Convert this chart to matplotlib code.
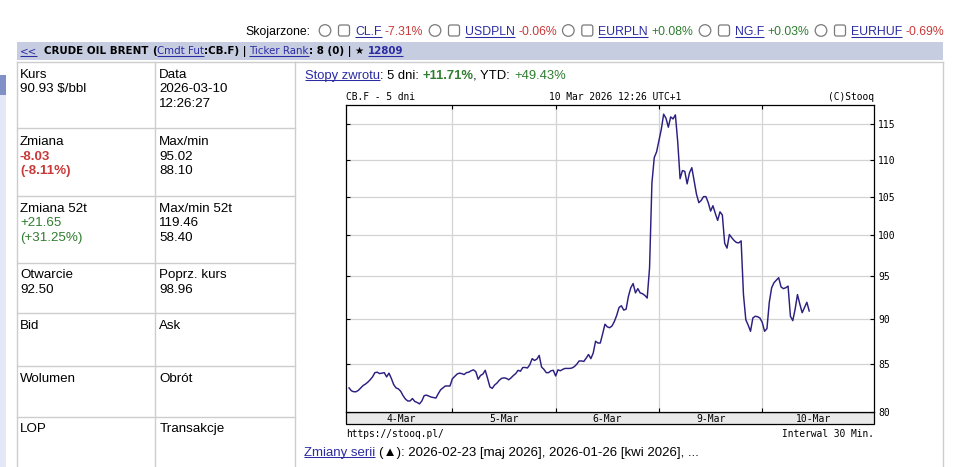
import matplotlib
matplotlib.use('Agg')
import matplotlib.pyplot as plt
import numpy as np
from matplotlib.patches import Rectangle, Circle, FancyBboxPatch
from matplotlib.ticker import FixedLocator, NullLocator, FuncFormatter
import matplotlib.transforms as mtransforms

# ---------------- data (30-min closes, CB.F, 5 days) ----------------
mar4 = [82.5, 82.2, 82.1, 82.1, 82.25, 82.5, 82.75, 82.9, 83.1, 83.35,
        83.65, 84.1, 84.15, 84.0, 84.05, 84.1, 83.65, 84.05, 83.5, 82.85,
        82.5, 82.4, 82.15, 81.7, 81.35, 81.15, 81.15, 81.4, 81.1, 81.0,
        80.85, 81.15, 81.7, 81.75, 81.65, 81.55, 81.5, 81.45, 81.9, 82.3,
        82.5, 82.7, 82.7, 82.7]
mar5 = [83.45, 83.7, 83.95, 84.05, 84.0, 83.9, 84.1, 84.15, 84.3, 84.4,
        84.2, 83.4, 83.8, 83.95, 84.35, 83.5, 82.6, 82.45, 82.8, 83.0,
        83.3, 83.5, 83.55, 83.5, 83.35, 83.55, 83.8, 84.0, 84.35, 84.25,
        84.65, 84.65, 84.6, 84.95, 85.6, 85.4, 85.55, 85.95, 84.7, 84.45,
        84.1, 84.1, 84.3, 84.35]
mar6 = [83.75, 84.4, 84.3, 84.45, 84.55, 84.55, 84.55, 84.6, 84.75, 85.0,
        85.35, 85.35, 85.3, 85.65, 86.05, 85.6, 86.2, 87.5, 87.3, 87.3,
        88.3, 89.4, 89.1, 89.0, 89.2, 89.7, 90.4, 91.3, 91.5, 91.0,
        91.1, 92.6, 93.6, 94.1, 93.0, 93.5, 93.0, 92.9, 92.7, 92.4,
        96.0, 106.8, 110.3, 111.1]
mar9 = [112.7, 114.3, 116.5, 115.9, 114.6, 116.1, 115.8, 116.4, 112.5, 107.4,
        108.5, 108.4, 106.7, 108.2, 108.9, 107.1, 105.3, 104.2, 104.5, 105.0,
        105.0, 104.2, 103.1, 103.8, 102.8, 101.9, 103.0, 102.6, 99.0, 98.4,
        100.1, 99.7, 99.35, 99.1, 99.05, 99.3, 92.8, 89.9, 89.3, 88.6,
        90.1, 90.3, 90.25, 90.1]
mar10 = [89.6, 88.6, 88.9, 91.9, 93.6, 94.2, 94.5, 94.8, 93.7, 93.5,
         93.6, 93.8, 90.3, 89.8, 91.1, 92.8, 91.7, 90.7, 91.3, 91.9, 90.9]
day_labels = ['4-Mar', '5-Mar', '6-Mar', '9-Mar', '10-Mar']
bars_per_day = 44
y_ticks = [80, 85, 90, 95, 100, 105, 110, 115]

prices = np.array(mar4 + mar5 + mar6 + mar9 + mar10)
xidx = np.arange(len(prices))
day_starts = [bars_per_day * d for d in range(1, len(day_labels))]
day_centers = [bars_per_day * d + bars_per_day / 2 for d in range(len(day_labels))]

# ---------------- figure ----------------
W, H = 964, 467
fig = plt.figure(figsize=(W / 100, H / 100), dpi=100)
ov = fig.add_axes([0, 0, 1, 1])
ov.set_xlim(0, W)
ov.set_ylim(H, 0)
ov.axis('off')
renderer = fig.canvas.get_renderer()

SANS = ['Liberation Sans', 'DejaVu Sans']
VERD = ['DejaVu Sans']
MONO = ['DejaVu Sans Mono']
LINK = '#2b2ba3'
RED = '#c83a3a'
GREEN = '#2f7d2f'
BORDER = '#cdcdcd'


def text(x, yc, s, size, color='black', weight='normal', family=SANS,
         ha='left', underline=False):
    t = ov.text(x, yc + 0.36 * size, s, fontsize=size * 0.72, color=color,
                fontweight=weight, family=family, ha=ha, va='baseline')
    w = t.get_window_extent(renderer).width
    if underline:
        x0 = x if ha == 'left' else x - w
        ov.plot([x0, x0 + w], [yc + 0.36 * size + 1.6] * 2, color=color,
                lw=0.75, solid_capstyle='butt')
    return w


def seq(x, yc, size, pieces, family=SANS, spw=0.278):
    for s, kw in pieces:
        lead = len(s) - len(s.lstrip(' '))
        trail = len(s) - len(s.rstrip(' '))
        x += lead * spw * size
        core = s.strip(' ')
        if core:
            x += text(x, yc, core, size, family=family, **kw)
        x += trail * spw * size
    return x


# left page strip
ov.add_patch(Rectangle((0, 75), 6, 20, facecolor='#8190c6', edgecolor='none'))
ov.add_patch(Rectangle((0, 95), 6, H - 95, facecolor='#e4e7f7', edgecolor='none'))

# ---------------- top "Skojarzone" line ----------------
ytop = 30.5
fs_top = 12.3
text(245.7, ytop, 'Skojarzone:', fs_top)
related = [('CL.F', '-7.31%', RED, 355), ('USDPLN', '-0.06%', RED, 465),
           ('EURPLN', '+0.08%', GREEN, 598.3), ('NG.F', '+0.03%', GREEN, 735),
           ('EURHUF', '-0.69%', RED, 851)]
for name, chg, col, xs in related:
    ov.add_patch(Circle((xs - 30, ytop), 5.8, facecolor='white',
                        edgecolor='#7a7a7a', lw=0.9))
    ov.add_patch(FancyBboxPatch((xs - 16.5, ytop - 5.5), 11, 11,
                                boxstyle='round,pad=0,rounding_size=2',
                                facecolor='white', edgecolor='#7a7a7a', lw=0.9))
    seq(xs, ytop, fs_top, [(name + ' ', dict(color=LINK, underline=True)),
                           (chg, dict(color=col))])

# ---------------- header bar ----------------
ov.add_patch(Rectangle((16.5, 41.5), 926.5, 18.5, facecolor='#c6cde0',
                       edgecolor='none'))
yh = 50.8
fs_h = 10.2
text(20, yh, '<<', fs_h, color=LINK, family=VERD, underline=True)
seq(44, yh, fs_h, [
    ('CRUDE OIL BRENT ', dict(weight='bold')),
    ('(', dict(weight='bold')),
    ('Cmdt Fut', dict(color=LINK, underline=True)),
    (':CB.F) | ', dict(weight='bold')),
    ('Ticker Rank', dict(color=LINK, underline=True)),
    (': 8 (0) | ★ ', dict(weight='bold')),
    ('12809', dict(color=LINK, weight='bold', underline=True)),
], family=VERD, spw=0.34)

# ---------------- left table ----------------
tx0, tx1, tx2 = 16.7, 155.3, 294.7
ty = [61.7, 128.3, 195.7, 262.7, 313.3, 365.7, 416.7]
for yy in ty:
    ov.plot([tx0, tx2], [yy, yy], color=BORDER, lw=1.0)
ov.plot([tx2, 942.7], [ty[0], ty[0]], color=BORDER, lw=1.0)
for xx in (tx0, tx1, tx2):
    ov.plot([xx, xx], [ty[0], H], color=BORDER, lw=1.0)
ov.plot([942.7, 942.7], [ty[0], H], color=BORDER, lw=1.0)

fs_t = 13.4
lh = 14.8
cells = [
    (72.7, [('Kurs', 'black', 'normal'), ('90.93 $/bbl', 'black', 'normal')],
           [('Data', 'black', 'normal'), ('2026-03-10', 'black', 'normal'),
            ('12:26:27', 'black', 'normal')]),
    (140.0, [('Zmiana', 'black', 'normal'), ('-8.03', RED, 'bold'),
             ('(-8.11%)', RED, 'bold')],
            [('Max/min', 'black', 'normal'), ('95.02', 'black', 'normal'),
             ('88.10', 'black', 'normal')]),
    (206.7, [('Zmiana 52t', 'black', 'normal'), ('+21.65', GREEN, 'normal'),
             ('(+31.25%)', GREEN, 'normal')],
            [('Max/min 52t', 'black', 'normal'), ('119.46', 'black', 'normal'),
             ('58.40', 'black', 'normal')]),
    (273.3, [('Otwarcie', 'black', 'normal'), ('92.50', 'black', 'normal')],
            [('Poprz. kurs', 'black', 'normal'), ('98.96', 'black', 'normal')]),
    (324.0, [('Bid', 'black', 'normal')], [('Ask', 'black', 'normal')]),
    (376.7, [('Wolumen', 'black', 'normal')], [('Obrót', 'black', 'normal')]),
    (427.3, [('LOP', 'black', 'normal')], [('Transakcje', 'black', 'normal')]),
]
for y0, left, right in cells:
    for k, (s, c, wgt) in enumerate(left):
        text(20, y0 + k * lh, s, fs_t, color=c, weight=wgt)
    for k, (s, c, wgt) in enumerate(right):
        text(159.3, y0 + k * lh, s, fs_t, color=c, weight=wgt)

# ---------------- returns line ----------------
seq(305, 74, 13.0, [
    ('Stopy zwrotu', dict(color=LINK, underline=True)),
    (': 5 dni: ', {}),
    ('+11.71%', dict(color=GREEN, weight='bold')),
    (', YTD: ', {}),
    ('+49.43%', dict(color=GREEN)),
])

# ---------------- chart ----------------
L, R, T, B = 346, 874, 104.7, 412.3
ax = fig.add_axes([L / W, 1 - B / H, (R - L) / W, (B - T) / H])
ax.set_yscale('log')
ax.set_xlim(-1.3, 223.6)
ax.set_ylim(80, 117.9)
for v in y_ticks[1:]:
    ax.axhline(v, color='#d3d3d3', lw=0.9, zorder=0)
for b in day_starts:
    ax.axvline(b, color='#d3d3d3', lw=0.9, zorder=0)
ax.plot(xidx, prices, color='#2b1f80', lw=1.05, zorder=3)

ax.yaxis.set_major_locator(FixedLocator(y_ticks))
ax.yaxis.set_minor_locator(NullLocator())
ax.yaxis.set_major_formatter(FuncFormatter(lambda v, p: '%d' % round(v)))
ax.yaxis.set_minor_formatter(FuncFormatter(lambda v, p: ''))
ax.tick_params(axis='y', which='major', left=True, right=True,
               labelleft=False, labelright=True, direction='in', length=3,
               width=0.8, pad=3, labelsize=7)
ax.set_xticks(day_starts)
ax.tick_params(axis='x', which='major', top=True, bottom=True,
               labelbottom=False, direction='in', length=3, width=0.8)
for lab in ax.get_yticklabels():
    lab.set_family(MONO)
for sp in ax.spines.values():
    sp.set_color('black')
    sp.set_linewidth(0.9)

# x label bar under chart
ov.add_patch(Rectangle((L, B), R - L, 12, facecolor='#e9e9e9',
                       edgecolor='black', lw=0.9))
blend = mtransforms.blended_transform_factory(ax.transData, ov.transData)
for c, lab in zip(day_centers, day_labels):
    ov.text(c, B + 6.3, lab, transform=blend, ha='center', va='center',
            fontsize=7, family=MONO, color='black')

fs_m = 9.7
text(L, 96.3, 'CB.F - 5 dni', fs_m, family=MONO)
text(549.3, 96.3, '10 Mar 2026 12:26 UTC+1', fs_m, family=MONO)
text(R, 96.3, '(C)Stooq', fs_m, family=MONO, ha='right')
text(L, 433.5, 'https://stooq.pl/', fs_m, family=MONO)
text(R, 433.5, 'Interwal 30 Min.', fs_m, family=MONO, ha='right')

# ---------------- bottom line ----------------
seq(304, 450.8, 13.2, [
    ('Zmiany serii ', dict(color=LINK, underline=True)),
    ('(▲): 2026-02-23 [maj 2026], 2026-01-26 [kwi 2026], ...', {}),
])

fig.savefig('out.png', dpi=100)
